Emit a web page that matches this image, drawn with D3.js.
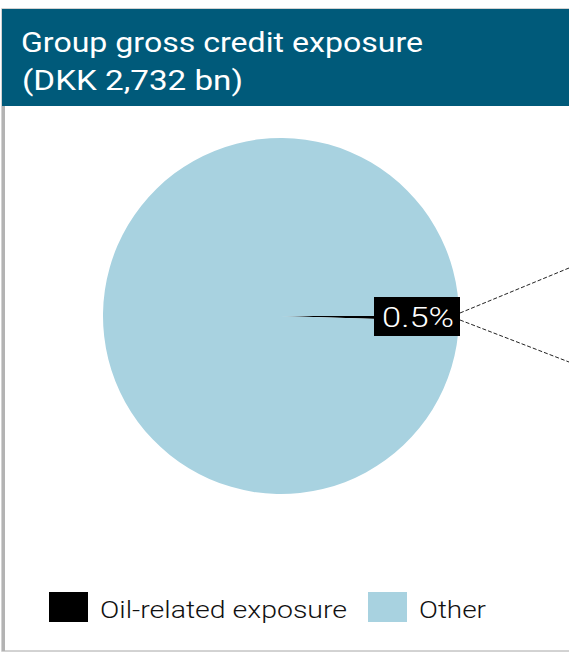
<!DOCTYPE html>
<html>
<head>
<meta charset="utf-8">
<script src="https://cdn.jsdelivr.net/npm/d3@7"></script>
<style>
  body { margin: 0; background: #fff; }
  text { font-family: Roboto, "DejaVu Sans", sans-serif; }
</style>
</head>
<body>
<svg id="chart"></svg>
<script>
var width = 569;
var height = 654;

var categories = ['Oil-related exposure', 'Other'];
var shares = [0.5, 99.5];
var colors = ['#000000', '#a8d2e0'];
var titleLines = ['Group gross credit exposure', '(DKK 2,732 bn)'];

var svg = d3.select('#chart')
  .attr('width', width)
  .attr('height', height);

// panel border
svg.append('rect')
  .attr('x', 2)
  .attr('y', 9)
  .attr('width', width)
  .attr('height', 642)
  .attr('fill', 'none')
  .attr('stroke', '#c4c4c4')
  .attr('stroke-width', 1.5);

svg.append('line')
  .attr('x1', 3.5).attr('x2', 3.5)
  .attr('y1', 105).attr('y2', 651)
  .attr('stroke', '#b3b3b3')
  .attr('stroke-width', 3);

// header
svg.append('rect')
  .attr('x', 2)
  .attr('y', 9)
  .attr('width', width - 2)
  .attr('height', 97)
  .attr('fill', '#005a7a');

var titleWidths = [402, 221];
svg.selectAll('.title')
  .data(titleLines)
  .enter()
  .append('text')
  .attr('class', 'title')
  .attr('x', (d, i) => 21 + i)
  .attr('y', (d, i) => 52 + i * 38)
  .attr('fill', '#fff')
  .attr('textLength', (d, i) => titleWidths[i])
  .attr('lengthAdjust', 'spacingAndGlyphs')
  .style('font-size', '28px')
  .style('font-weight', 400)
  .text(d => d);

// pie
var cx = 281, cy = 316, r = 178;
var startAngle = Math.PI / 2;

var pie = d3.pie()
  .sort(null)
  .startAngle(startAngle)
  .endAngle(startAngle + 2 * Math.PI)
  .value(d => d);

var arc = d3.arc()
  .innerRadius(0)
  .outerRadius(r);

var g = svg.append('g')
  .attr('transform', 'translate(' + cx + ',' + cy + ')');

g.selectAll('path')
  .data(pie(shares))
  .enter()
  .append('path')
  .attr('d', arc)
  .attr('fill', (d, i) => colors[i]);

// callout lines to the right
var callouts = [[460 - cx, -3, width - cx, 268 - cy], [460 - cx, 4, width - cx, 362 - cy]];
g.selectAll('.callout')
  .data(callouts)
  .enter()
  .append('line')
  .attr('class', 'callout')
  .attr('x1', d => d[0]).attr('y1', d => d[1])
  .attr('x2', d => d[2]).attr('y2', d => d[3])
  .attr('stroke', '#222')
  .attr('stroke-width', 1)
  .attr('stroke-dasharray', '4,2');

// value label
var label = g.append('g')
  .attr('transform', 'translate(' + (r - 85) + ',0)');

label.append('rect')
  .attr('x', 0)
  .attr('y', -19)
  .attr('width', 86)
  .attr('height', 39)
  .attr('fill', '#000');

label.append('text')
  .attr('x', 8)
  .attr('y', 11)
  .attr('fill', '#fff')
  .attr('textLength', 72)
  .attr('lengthAdjust', 'spacingAndGlyphs')
  .style('font-size', '28px')
  .style('font-weight', 300)
  .text(d3.format('.1f')(shares[0]) + '%');

// legend
var legendX = [49, 368];
var legendW = [247, 67];
var legend = svg.selectAll('.legend')
  .data(categories)
  .enter()
  .append('g')
  .attr('class', 'legend')
  .attr('transform', (d, i) => 'translate(' + legendX[i] + ',592)');

legend.append('rect')
  .attr('width', 39)
  .attr('height', 30)
  .attr('fill', (d, i) => colors[i]);

legend.append('text')
  .attr('x', 51)
  .attr('y', 26)
  .attr('fill', '#111')
  .attr('textLength', (d, i) => legendW[i])
  .attr('lengthAdjust', 'spacingAndGlyphs')
  .style('font-size', '24px')
  .style('font-weight', 300)
  .text(d => d);
</script>
</body>
</html>
